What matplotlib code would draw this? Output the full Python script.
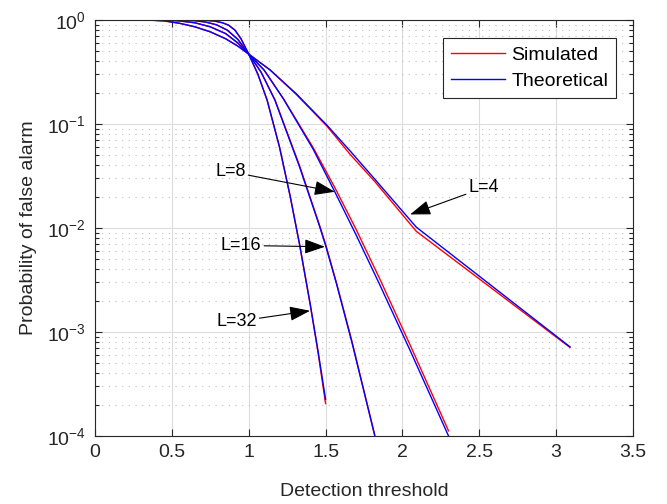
import numpy as np
import matplotlib
matplotlib.use("Agg")
import matplotlib.pyplot as plt

# threshold / Pfa values, one set per window length L
x_l4 = [0.25, 0.35, 0.45, 0.55, 0.65, 0.75, 0.85, 0.93, 1.0, 1.14, 1.31, 1.51, 1.66, 1.82, 2.09, 3.09]
theo_l4 = [1.0, 0.998, 0.98, 0.93, 0.86, 0.77, 0.66, 0.56, 0.47, 0.33, 0.195, 0.097, 0.055, 0.0295, 0.0102, 7.2e-4]
sim_l4 = [1.0, 0.998, 0.98, 0.93, 0.86, 0.77, 0.66, 0.56, 0.47, 0.33, 0.192, 0.095, 0.051, 0.028, 0.0093, 7.1e-4]

x_l8 = [0.25, 0.45, 0.55, 0.65, 0.75, 0.85, 0.93, 1.0, 1.1, 1.225, 1.42, 1.56, 1.70, 1.85, 2.05, 2.30]
theo_l8 = [1.0, 0.998, 0.98, 0.94, 0.86, 0.74, 0.60, 0.47, 0.33, 0.175, 0.057, 0.0223, 0.0085, 0.0029, 6.65e-4, 1.0e-4]
sim_l8 = [1.0, 0.998, 0.98, 0.94, 0.86, 0.74, 0.60, 0.47, 0.33, 0.176, 0.059, 0.0245, 0.0096, 0.0033, 7.5e-4, 1.12e-4]

x_l16 = [0.25, 0.55, 0.65, 0.72, 0.79, 0.86, 0.93, 1.0, 1.08, 1.17, 1.33, 1.46, 1.50, 1.57, 1.67, 1.82]
theo_l16 = [1.0, 0.998, 0.985, 0.955, 0.9, 0.80, 0.65, 0.47, 0.316, 0.17, 0.039, 0.0105, 0.0068, 0.00295, 8.1e-4, 1.02e-4]
sim_l16 = [1.0, 0.998, 0.985, 0.955, 0.9, 0.80, 0.65, 0.47, 0.316, 0.172, 0.040, 0.0107, 0.0070, 0.0030, 8.3e-4, 1.0e-4]

x_l32 = [0.25, 0.65, 0.72, 0.78, 0.83, 0.87, 0.91, 0.95, 1.0, 1.06, 1.12, 1.20, 1.27, 1.33, 1.40, 1.45, 1.50]
theo_l32 = [1.0, 0.999, 0.993, 0.975, 0.94, 0.89, 0.80, 0.66, 0.47, 0.30, 0.17, 0.0605, 0.0202, 0.0071, 0.00186, 6.7e-4, 2.25e-4]
sim_l32 = [1.0, 0.999, 0.993, 0.975, 0.94, 0.89, 0.80, 0.66, 0.47, 0.30, 0.168, 0.060, 0.0200, 0.0070, 0.00183, 6.5e-4, 2.05e-4]

# annotation labels: text position and arrow tip
labels = ["L=4", "L=8", "L=16", "L=32"]
label_xy = [(2.53, 0.0244), (0.88, 0.0348), (0.95, 0.0068), (0.92, 0.00126)]
arrow_tip = [(2.05, 0.0135), (1.56, 0.0223), (1.496, 0.0066), (1.399, 0.0016)]

plt.rcParams['font.family'] = ['Liberation Sans', 'DejaVu Sans']
plt.rcParams['mathtext.default'] = 'regular'

fig = plt.figure(figsize=(6.67, 5.04), dpi=100)
ax = fig.add_axes([95 / 667, 1 - 436 / 504, 538 / 667, 416 / 504])

lw = 1.0
for xs, ys in [(x_l4, sim_l4), (x_l8, sim_l8), (x_l16, sim_l16), (x_l32, sim_l32)]:
    ax.plot(xs, ys, color='red', lw=lw)
for xs, ys in [(x_l4, theo_l4), (x_l8, theo_l8), (x_l16, theo_l16), (x_l32, theo_l32)]:
    ax.plot(xs, ys, color='blue', lw=lw)

# legend handles
h_sim, = ax.plot([], [], color='red', lw=lw, label='Simulated')
h_theo, = ax.plot([], [], color='blue', lw=lw, label='Theoretical')

ax.set_yscale('log')
ax.set_xlim(0, 3.5)
ax.set_ylim(1e-4, 1)
ax.set_xticks(np.arange(0, 3.51, 0.5))
ax.set_xticklabels(['0', '0.5', '1', '1.5', '2', '2.5', '3', '3.5'])

axis_col = '#262626'
ax.grid(True, which='major', color='#dcdcdc', lw=0.8, ls='-')
ax.grid(True, which='minor', axis='y', color='#bdbdbd', lw=0.8, ls=(0, (1, 5)))
ax.set_axisbelow(True)
ax.tick_params(which='both', direction='in', top=True, right=True, colors=axis_col,
               labelsize=14, labelcolor=axis_col)
ax.tick_params(which='major', length=5, width=0.8)
ax.tick_params(which='minor', length=3, width=0.8)
ax.tick_params(axis='x', which='minor', bottom=False, top=False)
ax.tick_params(axis='x', which='major', pad=5.5)
ax.tick_params(axis='y', which='major', pad=6.5)
for sp in ax.spines.values():
    sp.set_color(axis_col)
    sp.set_linewidth(0.8)

ax.set_xlabel('Detection threshold', fontsize=14, color=axis_col, labelpad=16)
ax.set_ylabel('Probability of false alarm', fontsize=14, color=axis_col, labelpad=7)

for lab, xy, tip in zip(labels, label_xy, arrow_tip):
    ax.annotate(lab, xy=tip, xytext=xy, fontsize=13, ha='center', va='center',
                arrowprops=dict(arrowstyle='-|>,head_length=0.9,head_width=0.32',
                                color='black', lw=0.8, shrinkA=0, shrinkB=0,
                                mutation_scale=14))

leg = ax.legend(handles=[h_sim, h_theo], loc='upper right', bbox_to_anchor=(0.968, 0.956),
                borderaxespad=0, fontsize=14, fancybox=False, framealpha=1,
                edgecolor=axis_col, handlelength=2.8, handletextpad=0.3,
                borderpad=0.4, labelspacing=0.45)
leg.get_frame().set_linewidth(0.8)

fig.savefig('out.png', dpi=100)
